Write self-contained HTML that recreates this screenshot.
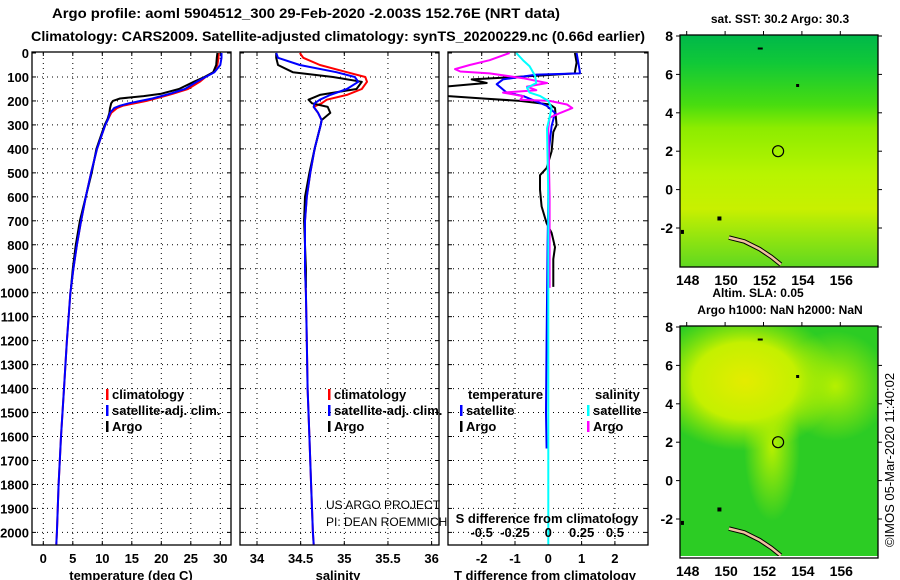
<!DOCTYPE html>
<html><head><meta charset="utf-8">
<style>
body{margin:0;background:#fff;}
svg{display:block;font-family:"Liberation Sans",sans-serif;font-weight:bold;}
</style></head>
<body>
<svg id="c" width="900" height="580" viewBox="0 0 900 580">
<defs>
<linearGradient id="sst" x1="0" y1="0" x2="0" y2="1">
<stop offset="0" stop-color="#00b84a"/><stop offset="0.12" stop-color="#10c838"/><stop offset="0.3" stop-color="#48dc10"/>
<stop offset="0.4" stop-color="#8cec00"/><stop offset="0.6" stop-color="#b8f400"/><stop offset="0.75" stop-color="#c8f000"/>
<stop offset="0.88" stop-color="#90e410"/><stop offset="1" stop-color="#60d820"/></linearGradient>
<radialGradient id="sla1" cx="0.5" cy="0.5" r="0.5"><stop offset="0" stop-color="#e4ec00"/><stop offset="0.55" stop-color="#c4f000"/><stop offset="1" stop-color="#a0ec00" stop-opacity="0"/></radialGradient>
<radialGradient id="sla2" cx="0.5" cy="0.5" r="0.5"><stop offset="0" stop-color="#b8f000"/><stop offset="1" stop-color="#b8f000" stop-opacity="0"/></radialGradient>
<clipPath id="cp1"><rect x="32" y="52" width="199" height="493"/></clipPath>
<clipPath id="cp2"><rect x="240" y="52" width="199" height="493"/></clipPath>
<clipPath id="cp3"><rect x="448" y="52" width="200" height="493"/></clipPath>
<clipPath id="mc1"><rect x="680" y="35" width="198" height="232"/></clipPath>
<clipPath id="mc2"><rect x="680" y="326" width="198" height="230"/></clipPath>
</defs>
<text x="306" y="18" font-size="14" text-anchor="middle" textLength="508" lengthAdjust="spacingAndGlyphs">Argo profile: aoml 5904512_300 29-Feb-2020 -2.003S 152.76E (NRT data)</text>
<text x="338" y="41" font-size="14" text-anchor="middle" textLength="614" lengthAdjust="spacingAndGlyphs">Climatology: CARS2009. Satellite-adjusted climatology: synTS_20200229.nc (0.66d earlier)</text>
<g id="panels"></g>
<g id="maps"></g>
</svg>
<script>
// shared depth grid (m)
const depths=[0,20,50,80,100,120,150,170,180,190,200,210,220,230,250,275,300,350,400,500,600,700,800,900,1000,1200,1400,1600,1800,2000,2050];
const tempClim=[29.7,29.7,29.5,28.8,27.5,26.5,24.5,22,20.5,19,17.5,15.5,13.5,12.5,11.5,11,10.5,9.8,9.1,8.1,7.2,6.4,5.7,5.1,4.6,4.0,3.5,3.0,2.6,2.3,2.2];
const tempSat=[30.2,30.2,30.0,29.0,27.5,26.0,24.0,21.5,20.0,18.5,16.5,14.5,13.0,12.0,11.3,11.0,10.5,9.8,9.1,8.1,7.2,6.4,5.7,5.1,4.6,4.0,3.5,3.0,2.6,2.3,2.2];
const argoDepths=[0,20,50,80,100,120,150,170,180,190,200,210,220,230,250,275,300,350,400,500,600,700,800,900,980];
const tempArgo=[29.5,29.4,29.3,28.8,27.3,25.5,23,20,17,13,11.8,11.5,11.4,11.3,11.2,10.9,10.4,9.7,9.0,8.2,7.2,6.2,5.5,5.0,4.7];
const salDepths=[0,20,50,80,100,120,150,175,195,210,225,250,280,300,400,500,600,700,800,900,1000,1200,1400,1600,1800,2000,2050];
const salClim=[34.49,34.53,34.72,35.03,35.24,35.26,35.2,35.03,34.8,34.74,34.65,34.7,34.74,34.73,34.66,34.61,34.57,34.55,34.55,34.55,34.56,34.57,34.58,34.6,34.62,34.64,34.65];
const salSat=[34.22,34.24,34.49,34.91,35.12,35.16,35.03,34.84,34.72,34.66,34.65,34.7,34.74,34.73,34.66,34.61,34.57,34.55,34.55,34.55,34.56,34.57,34.58,34.6,34.62,34.64,34.65];
const salArgoDepths=[0,20,50,80,100,120,150,175,195,210,225,250,280,300,400,500,600,700,800,900,980];
const salArgo=[34.22,34.22,34.24,34.41,34.87,35.2,35.14,34.72,34.59,34.63,34.81,34.84,34.74,34.73,34.66,34.6,34.55,34.54,34.55,34.56,34.56];
// difference panel
const dTSatDepths=[0,40,80,85,90,110,130,165,180,220,250,305,400,800,1200,1500,1650];
const dTSat=[0.85,0.9,0.95,0.95,-0.35,-1.36,-1.55,-1.25,-0.75,-0.05,0.2,0.1,0.02,-0.02,-0.05,-0.07,-0.05];
const dTArgoDepths=[0,40,80,85,95,110,125,130,145,160,180,190,200,215,230,300,330,410,480,510,570,640,710,750,810,860,920,976];
const dTArgo=[0.8,0.85,0.8,0.8,-0.35,-2.3,-1.85,-2.3,-3.5,-3.5,-3.0,-1.96,-0.85,0.05,0.2,0.25,0.15,0.1,-0.05,-0.25,-0.25,-0.2,-0.05,0.1,0.2,0.15,0.15,0.15];
const dSSatDepths=[0,30,55,95,125,145,165,180,200,230,315,600,1000,2050];
const dSSat=[-0.24,-0.19,-0.14,-0.1,-0.09,-0.16,-0.14,-0.06,0,0.025,-0.01,0,0,0];
const dSArgoDepths=[0,30,50,67,77,85,105,125,140,155,165,180,195,200,215,230,250,270,315,600,980];
const dSArgo=[-0.29,-0.44,-0.59,-0.7,-0.66,-0.44,-0.19,-0.01,-0.16,-0.09,-0.34,-0.19,-0.21,0.01,0.14,0.18,0.09,0.01,0.0,0.01,0.01];
const depthTicks=[0,100,200,300,400,500,600,700,800,900,1000,1100,1200,1300,1400,1500,1600,1700,1800,1900,2000];
const tempTicks=[0,5,10,15,20,25,30];
const salTicks=[34,34.5,35,35.5,36];
const salTickLabels=["34","34.5","35","35.5","36"];
const dTTicks=[-2,-1,0,1,2];
const dSTicks=[-0.5,-0.25,0,0.25,0.5];
const dSTickLabels=["-0.5","-0.25","0","0.25","0.5"];
const lonTicks=[148,150,152,154,156];
const latTicks=[8,6,4,2,0,-2];

const NS="http://www.w3.org/2000/svg";
function mk(tag,attrs,parent){const e=document.createElementNS(NS,tag);for(const k in attrs)e.setAttribute(k,attrs[k]);parent.appendChild(e);return e;}
const yD=d=>53+d*0.2397;
const xT=t=>43.3+t*5.9;
const xS=s=>257+(s-34)*87.3;
const xDT=t=>548.3+t*33.3;
const xDS=s=>548.3+s*133.3;
const P=document.getElementById('panels');
const panels=[{x:32,w:199,n:'temperature-panel'},{x:240,w:199,n:'salinity-panel'},{x:448,w:200,n:'difference-panel'}];
function grid(px,pw,xs){
  const g=mk('g',{},P);
  
  
  depthTicks.forEach(d=>{if(d>0)mk('line',{x1:px,x2:px+pw,y1:yD(d),y2:yD(d),stroke:'#000','stroke-width':1,'stroke-dasharray':'1 4'},g);
    mk('line',{x1:px,x2:px+4,y1:yD(d),y2:yD(d),stroke:'#000'},g);mk('line',{x1:px+pw-4,x2:px+pw,y1:yD(d),y2:yD(d),stroke:'#000'},g);});
  xs.forEach(x=>{mk('line',{x1:x,x2:x,y1:53,y2:545,stroke:'#000','stroke-dasharray':'1 4'},g);mk('line',{x1:x,x2:x,y1:541,y2:545,stroke:'#000'},g);mk('line',{x1:x,x2:x,y1:52,y2:56,stroke:'#000'},g);});
}
grid(32,199,tempTicks.map(xT));
grid(240,199,salTicks.map(xS));
grid(448,200,dTTicks.map(xDT));
panels.forEach(p=>{const r=mk('rect',{x:p.x,y:52,width:p.w,height:493,fill:'none',stroke:'#000','stroke-width':1.3},P);
  
  });
function line(ds,vs,fx,color,clip,name,w){
  const pts=ds.map((d,i)=>fx(vs[i]).toFixed(1)+','+yD(d).toFixed(1)).join(' ');
  const e=mk('polyline',{points:pts,fill:'none',stroke:color,'stroke-width':w||2,'clip-path':'url(#'+clip+')','stroke-linejoin':'round'},P);
  
  
}
line(depths,tempClim,xT,'#f00','cp1','temp-climatology-line');
line(argoDepths,tempArgo,xT,'#000','cp1','temp-argo-line');
line(depths,tempSat,xT,'#00f','cp1','temp-satellite-line');
line(salDepths,salClim,xS,'#f00','cp2','sal-climatology-line');
line(salArgoDepths,salArgo,xS,'#000','cp2','sal-argo-line');
line(salDepths,salSat,xS,'#00f','cp2','sal-satellite-line');
line(dTArgoDepths,dTArgo,xDT,'#000','cp3','dt-argo-line');
line(dTSatDepths,dTSat,xDT,'#00f','cp3','dt-satellite-line');
line(dSArgoDepths,dSArgo,xDS,'#f0f','cp3','ds-argo-line');
line(dSSatDepths,dSSat,xDS,'#0ff','cp3','ds-satellite-line');
function txt(x,y,s,sz,anchor,name,extra){const t=mk('text',Object.assign({x:x,y:y,'font-size':sz,'text-anchor':anchor||'start'},extra||{}),P);t.textContent=s;
  
  return t;}
depthTicks.forEach(d=>txt(29,yD(d)+5,String(d),13,'end','depth-tick-label'));
tempTicks.forEach(t=>txt(xT(t),563,String(t),13,'middle','temp-tick-label'));
salTicks.forEach((s,i)=>txt(xS(s),563,salTickLabels[i],13,'middle','sal-tick-label'));
dTTicks.forEach(t=>txt(xDT(t),563,String(t),13,'middle','dt-tick-label'));
dSTicks.forEach((s,i)=>txt(xDS(s),537,dSTickLabels[i],13,'middle','ds-tick-label'));
txt(131,580,'temperature (deg C)',13,'middle','x-axis-title-temperature');
txt(338,580,'salinity',13,'middle','x-axis-title-salinity');
txt(545,580,'T difference from climatology',13,'middle','x-axis-title-t-diff');
txt(547,523,'S difference from climatology',13,'middle','s-diff-title');
txt(326,509,'US ARGO PROJECT',12,'start','project-label',{'font-weight':'normal'});
txt(326,526,'PI: DEAN ROEMMICH',12,'start','pi-label',{'font-weight':'normal'});
function leg(x,y,c,s,name){const r=mk('rect',{x:x,y:y-10,width:2.5,height:11,fill:c},P);
  
  
  txt(x+6,y,s,13,'start',name);}
leg(106,399,'#f00','climatology','legend-climatology');
leg(106,415,'#00f','satellite-adj. clim.','legend-satellite-adj');
leg(106,431,'#000','Argo','legend-argo');
leg(328,399,'#f00','climatology','legend2-climatology');
leg(328,415,'#00f','satellite-adj. clim.','legend2-satellite-adj');
leg(328,431,'#000','Argo','legend2-argo');
txt(468,399,'temperature',13,'start','legend-temperature-header');
leg(460,415,'#00f','satellite','legend-t-satellite');
leg(460,431,'#000','Argo','legend-t-argo');
txt(595,399,'salinity',13,'start','legend-salinity-header');
leg(587,415,'#0ff','satellite','legend-s-satellite');
leg(587,431,'#f0f','Argo','legend-s-argo');

// maps
const M=document.getElementById('maps');
const xL=l=>686.7+(l-148)*19.2;
function map(top,fillFn,name,title,titleY,clip){
  const yL=v=>top+1+(8-v)*19.2;
  const g=mk('g',{},M);
  
  
  const bg=mk('g',{'clip-path':'url(#'+clip+')'},g);
  fillFn(bg,top);
  const coast=[[150.2,-2.5],[151,-2.7],[151.8,-3.1],[152.4,-3.5],[152.9,-3.9]].map(p=>xL(p[0])+','+yL(p[1])).join(' ');
  mk('polyline',{points:coast,fill:'none',stroke:'#000','stroke-width':4.5},bg);
  mk('polyline',{points:coast,fill:'none',stroke:'#f0c0a0','stroke-width':2.5},bg);
  mk('rect',{x:xL(149.6),y:yL(-1.4),width:4,height:4,fill:'#000'},bg);
  mk('rect',{x:xL(147.7),y:yL(-2.1),width:3,height:4,fill:'#000'},bg);
  mk('rect',{x:xL(151.7),y:yL(7.4),width:5,height:2,fill:'#000'},bg);
  mk('rect',{x:xL(153.7),y:yL(5.5),width:3,height:3,fill:'#000'},bg);
  const c=mk('circle',{cx:xL(152.76),cy:yL(2),r:5.5,fill:'none',stroke:'#000','stroke-width':1.2},g);
  
  
  mk('rect',{x:680,y:top,width:198,height:232,fill:'none',stroke:'#000','stroke-width':1.3},g);
  latTicks.forEach(v=>{mk('line',{x1:676,x2:680,y1:yL(v),y2:yL(v),stroke:'#000'},g);mk('line',{x1:878,x2:882,y1:yL(v),y2:yL(v),stroke:'#000'},g);
    const t=mk('text',{x:673,y:yL(v)+5,'font-size':14,'text-anchor':'end'},g);t.textContent=String(v);
    
    });
  lonTicks.forEach(v=>{mk('line',{x1:xL(v),x2:xL(v),y1:top-4,y2:top,stroke:'#000'},g);
    const t=mk('text',{x:xL(v)+1,y:top+250,'font-size':14,'text-anchor':'middle'},g);t.textContent=String(v);
    
    });
  const tt=mk('text',{x:780,y:titleY,'font-size':12,'text-anchor':'middle'},g);tt.textContent=title;
  
  
}
map(35,(g,top)=>{mk('rect',{x:680,y:top,width:198,height:232,fill:'url(#sst)'},g);},'sst-map','sat. SST: 30.2 Argo: 30.3',23,'mc1');
map(326,(g,top)=>{mk('rect',{x:680,y:top,width:198,height:230,fill:'#2ccc24'},g);
  mk('ellipse',{cx:835,cy:top+60,rx:55,ry:55,fill:'url(#sla2)'},g);
  mk('ellipse',{cx:772,cy:top+120,rx:28,ry:75,fill:'url(#sla2)'},g);
  mk('ellipse',{cx:745,cy:top+55,rx:95,ry:70,fill:'url(#sla1)'},g);},'sla-map','Argo h1000: NaN h2000: NaN',314,'mc2');
const a=mk('text',{x:758,y:297,'font-size':12,'text-anchor':'middle'},M);a.textContent='Altim. SLA: 0.05';


const im=mk('text',{x:0,y:0,'font-size':13,'font-weight':'normal','text-anchor':'middle',transform:'translate(894,460) rotate(-90)'},M);im.textContent='©IMOS 05-Mar-2020 11:40:02';


</script>
</body></html>
